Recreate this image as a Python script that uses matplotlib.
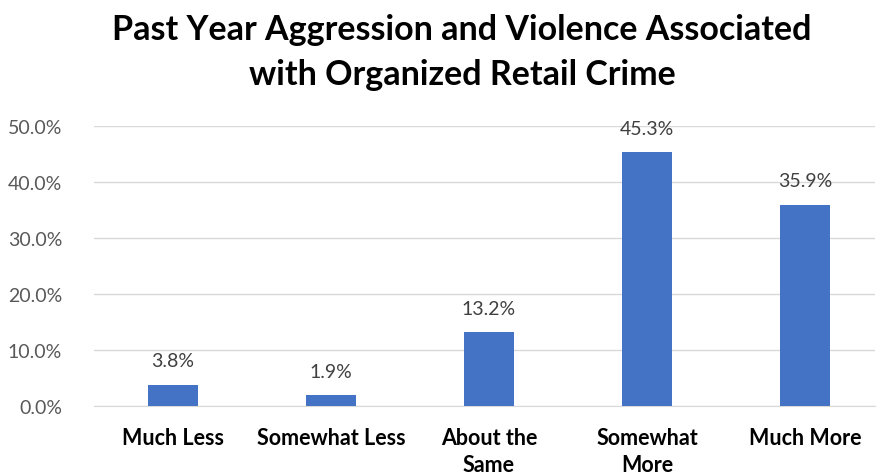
import numpy as np
import matplotlib.pyplot as plt

plt.rcParams['font.family'] = ['Lato', 'DejaVu Sans']

categories = ['Much Less', 'Somewhat Less', 'About the\nSame', 'Somewhat\nMore', 'Much More']
values = [3.8, 1.9, 13.2, 45.3, 35.9]
yticks = [0, 10, 20, 30, 40, 50]

fig = plt.figure(figsize=(8.8, 4.77), dpi=100)
ax = fig.add_axes([94 / 880, 70 / 477, 781 / 880, 280 / 477])

x = np.arange(len(categories))
bars = ax.bar(x, values, width=0.32, color='#4472C4', zorder=3)

for xi, v in zip(x, values):
    ax.text(xi, v + 3.3, '%.1f%%' % v, ha='center', va='baseline',
            fontsize=14, color='#404040')

ax.set_ylim(0, 50)
ax.set_xlim(-0.5, -0.5 + 781 / 158)
ax.set_yticks(yticks)
ax.set_yticklabels(['%.1f%%' % t for t in yticks], fontsize=14, color='#595959')
ax.set_xticks(x)
ax.set_xticklabels(categories, fontsize=15.5, fontweight='bold', color='black',
                   linespacing=1.35)
ax.tick_params(axis='both', length=0)
ax.tick_params(axis='x', pad=15)
ax.tick_params(axis='y', pad=23)
ax.grid(axis='y', color='#D9D9D9', linewidth=1, zorder=0)
for s in ['top', 'right', 'left']:
    ax.spines[s].set_visible(False)
ax.spines['bottom'].set_color('#D9D9D9')

fig.suptitle('Past Year Aggression and Violence Associated\nwith Organized Retail Crime',
             x=462 / 880, y=0.97, fontsize=24.5, fontweight='bold', linespacing=1.5)

plt.savefig('out.png', dpi=100)
